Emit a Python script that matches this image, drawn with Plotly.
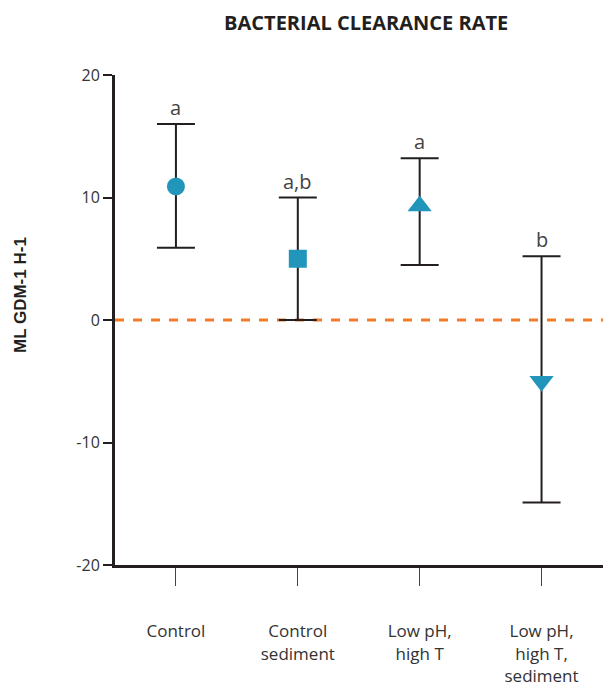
import plotly.graph_objects as go

categories = ["Control", "Control<br>sediment", "Low pH,<br>high T", "Low pH,<br>high T,<br>sediment"]
means = [10.9, 5.0, 9.3, -5.0]
upper = [16.0, 10.0, 13.2, 5.2]
lower = [5.9, 0.0, 4.5, -14.9]
letters = ["a", "a,b", "a", "b"]
y_ticks = [20, 10, 0, -10, -20]

# marker styling (not data)
SYMBOLS = ["circle", "square", "triangle-up", "triangle-down"]
SIZES = [18, 18, 21, 21]

xs = list(range(len(categories)))
err_plus = [u - m for u, m in zip(upper, means)]
err_minus = [m - l for m, l in zip(means, lower)]

TEAL = "#2196BA"
DARK = "#231F20"
FONT = "Open Sans"

fig = go.Figure()

# zero reference line
fig.add_shape(type="line", xref="paper", yref="y", x0=0, x1=1, y0=0, y1=0,
              line=dict(color="#F47B2A", width=3, dash="dash"), layer="below")

for i in xs:
    fig.add_trace(go.Scatter(
        x=[i], y=[means[i]], mode="markers",
        marker=dict(symbol=SYMBOLS[i], size=SIZES[i], color=TEAL, line=dict(width=0)),
        error_y=dict(type="data", symmetric=False, array=[err_plus[i]], arrayminus=[err_minus[i]],
                     color=DARK, thickness=2, width=19),
        showlegend=False, hoverinfo="skip"))
    fig.add_annotation(x=i, y=upper[i], text=letters[i], showarrow=False,
                       yanchor="bottom", yshift=1, font=dict(family=FONT, size=20, color="#444444"))

# y-axis title
fig.add_annotation(xref="paper", yref="paper", x=0, y=0.551, xshift=-95, xanchor="center", yanchor="middle",
                   text="<b>ML GDM-1 H-1</b>", textangle=-90, showarrow=False,
                   font=dict(family="Liberation Sans", size=17, color=DARK))

# page body has an 8px margin, so the figure is sized/offset to compensate
fig.update_layout(
    width=603, height=678,
    margin=dict(l=107, r=0, t=67, b=121),
    plot_bgcolor="white", paper_bgcolor="white",
    title=dict(text="<b>BACTERIAL CLEARANCE RATE</b>", x=0.594, xanchor="center", y=0.978, yanchor="middle",
               font=dict(family=FONT, size=20, color=DARK)),
    font=dict(family=FONT, color="#333333"),
)

fig.update_xaxes(range=[-0.5, 3.57], tickmode="array", tickvals=xs, ticktext=categories,
                 showline=True, linecolor=DARK, linewidth=3, showgrid=False, zeroline=False,
                 ticks="outside", ticklen=18, tickwidth=1, tickcolor="#444444",
                 ticklabelstandoff=31,
                 tickfont=dict(family=FONT, size=17, color="#333333"))
fig.update_yaxes(range=[-20, 20], tickmode="array", tickvals=y_ticks, ticktext=[str(v) for v in y_ticks],
                 showline=True, linecolor=DARK, linewidth=3, showgrid=False, zeroline=False,
                 ticks="outside", ticklen=9, tickwidth=2, tickcolor=DARK,
                 tickfont=dict(family=FONT, size=16, color="#333333"))

fig.write_html("out.html")
